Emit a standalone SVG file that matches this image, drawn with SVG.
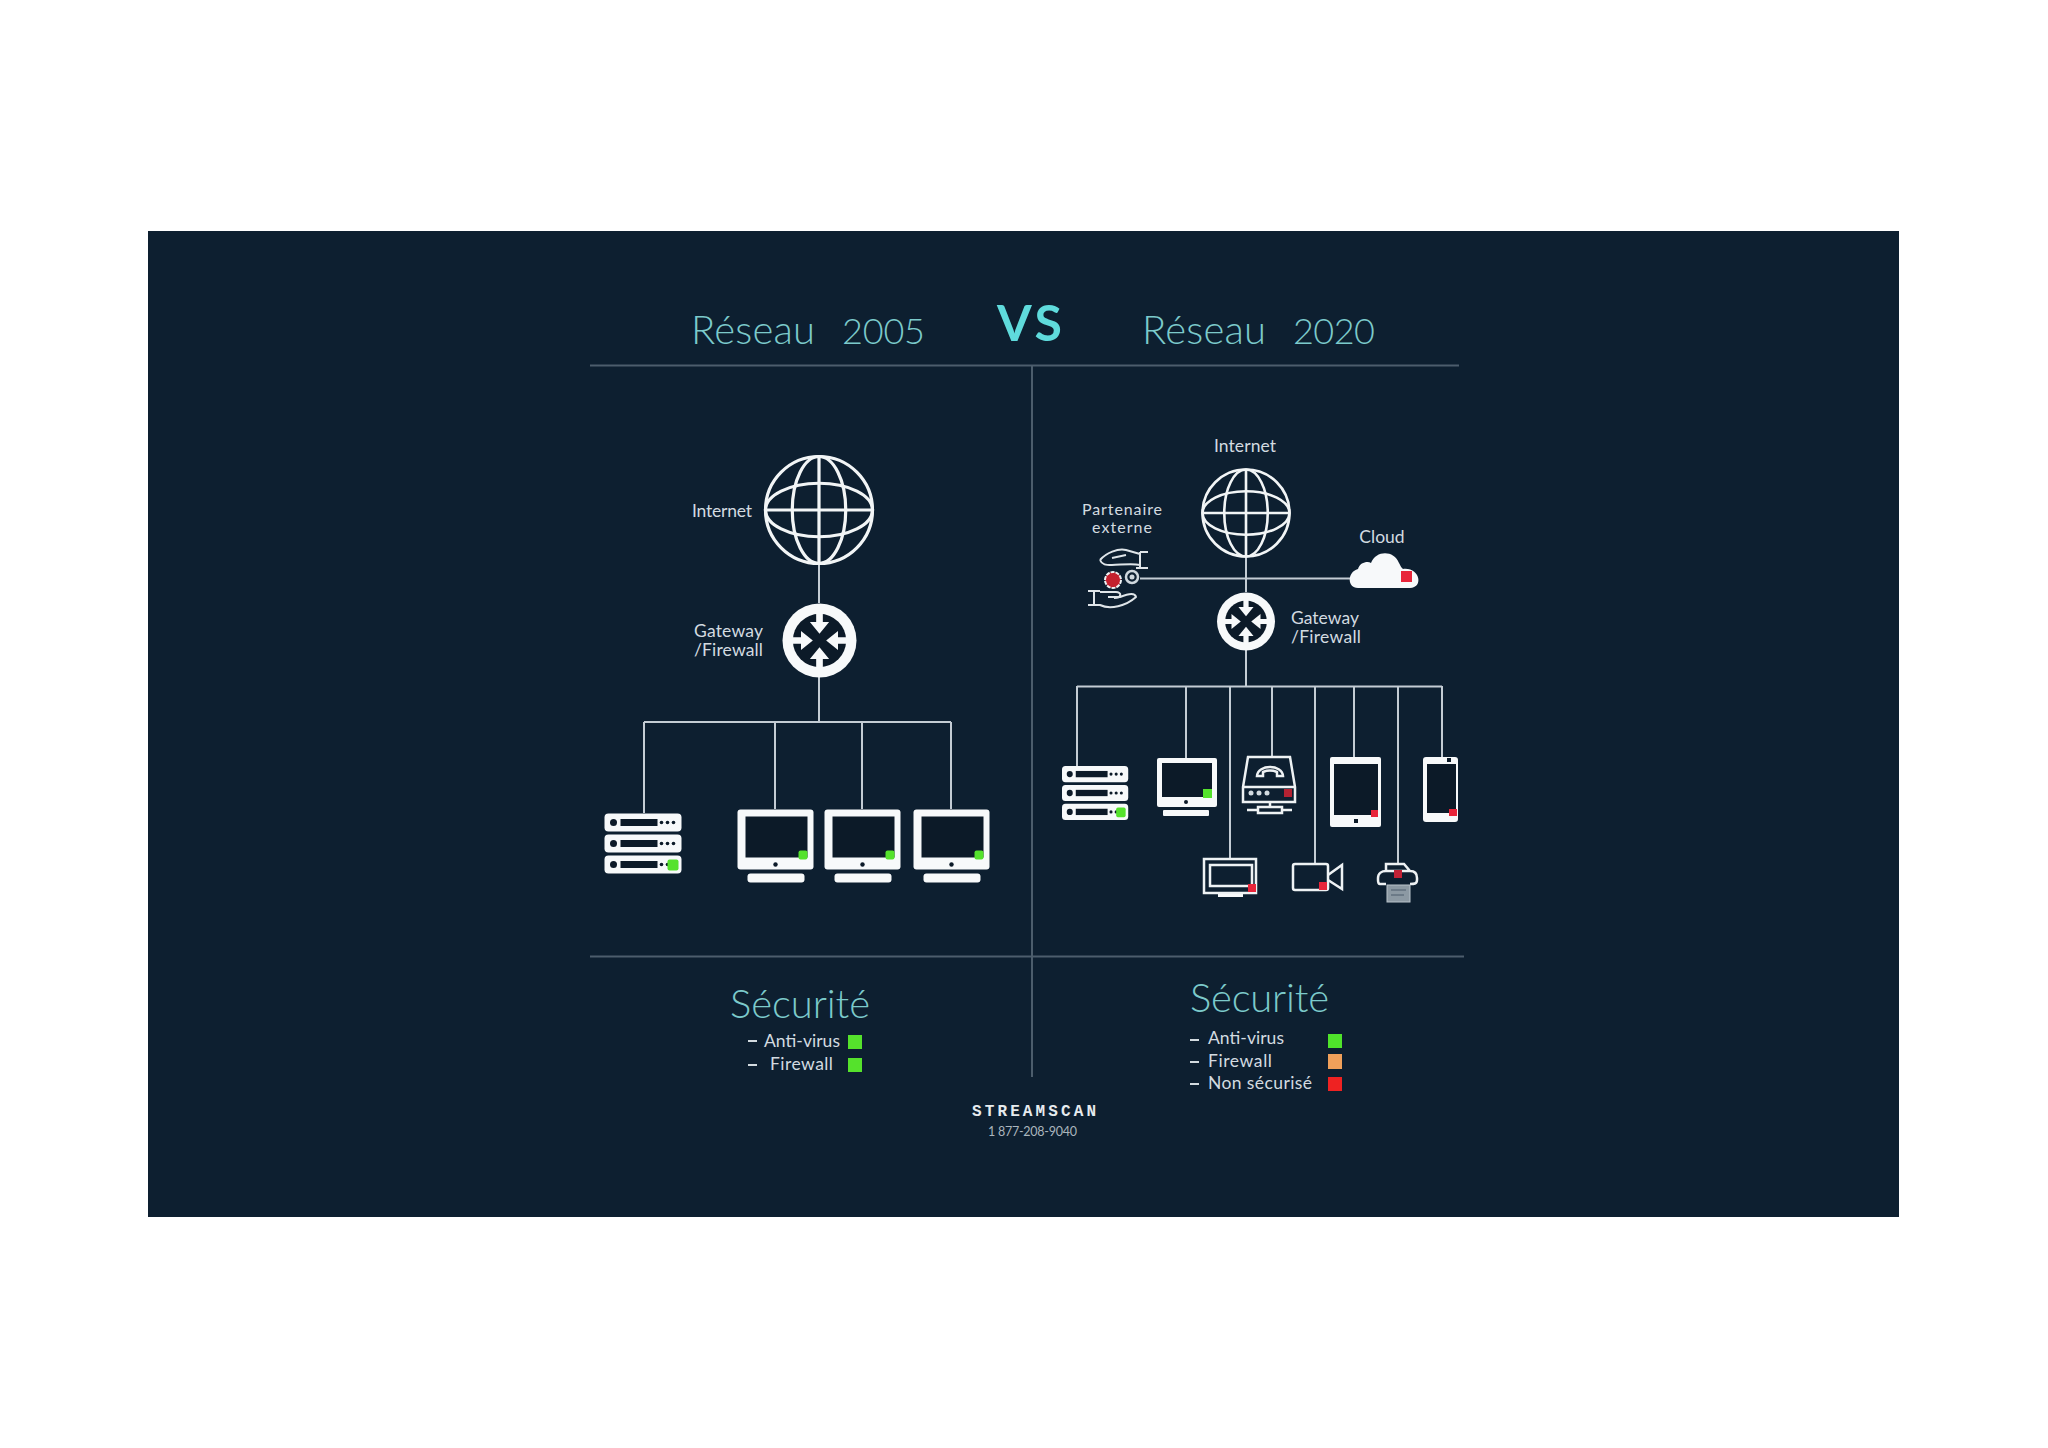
<svg xmlns="http://www.w3.org/2000/svg" width="2048" height="1448" viewBox="0 0 2048 1448">
<style>
.t{font-family:"Lato","Liberation Sans",sans-serif;font-weight:300;fill:#7ccacb;font-size:40px}
.n{font-size:36px}
.l{font-family:"Lato","Liberation Sans",sans-serif;font-weight:400;fill:#d3dbe0;font-size:17.5px}
.c{stroke:#c3ccd4;stroke-width:2;fill:none}
.d{stroke:#4c5d6c;stroke-width:2;fill:none}
.w{fill:#f7f9fa}
.k{fill:#0c1a28}
.o{fill:none;stroke:#eef2f4;stroke-width:2.5}
.h{fill:none;stroke:#dfe5e9;stroke-width:2;stroke-linejoin:round}
.g{fill:#55e22c}.r{fill:#e8253a}
</style>
<defs>
<g id="globe"><circle r="50" fill="none" stroke="#f2f5f6" stroke-width="3"/><ellipse rx="25" ry="50" fill="none" stroke="#f2f5f6" stroke-width="3"/><ellipse rx="50" ry="25" fill="none" stroke="#f2f5f6" stroke-width="3"/><path d="M0-50V50M-50 0H50" stroke="#f2f5f6" stroke-width="3"/></g>
<path id="arr" class="w" d="M-4.500-40H4.500V-25H13L0-9L-13-25H-4.500Z"/>
<g id="gw"><circle r="50" class="w"/><circle r="36" fill="#0c1a28"/><use href="#arr"/><use href="#arr" transform="rotate(90)"/><use href="#arr" transform="rotate(180)"/><use href="#arr" transform="rotate(270)"/></g>
<g id="rack"><rect width="77" height="18" rx="4" class="w"/><circle cx="9" cy="9" r="3.500" class="k"/><rect x="16" y="5.500" width="37" height="7" class="k"/><circle cx="57" cy="9" r="1.800" class="k"/><circle cx="63" cy="9" r="1.800" class="k"/><circle cx="69" cy="9" r="1.800" class="k"/></g>
<g id="srv"><use href="#rack"/><use href="#rack" y="21"/><use href="#rack" y="42"/><rect x="63" y="46" width="11" height="11" rx="2" class="g"/></g>
<g id="mon"><rect width="76" height="60" rx="3" class="w"/><rect x="8" y="7" width="62" height="41" class="k"/><circle cx="38" cy="55" r="2.200" class="k"/><rect x="10" y="64" width="57" height="9" rx="3" class="w"/><rect x="61" y="41" width="9" height="9" rx="2" class="g"/></g>
</defs>
<rect width="2048" height="1448" fill="#fff"/>
<rect x="148" y="231" width="1751" height="986" fill="#0d1f30"/>
<g id="connectors">
<path class="d" d="M590 365.500H1459M590 956.500H1464M1032 365V1077"/>
<path class="c" d="M819 564V603M819 677V722M644 722H951M644 722V813M775 722V809M862 722V809M951 722V809"/>
<path class="c" d="M1246 557V592M1246 650V686M1140 578.500H1350M1077 686.500H1442M1077 686V766M1186 686V758M1230 686V858M1272 686V757M1315 686V863M1354 686V757M1398 686V864M1442 686V757"/>
</g>
<g id="titles">
<text class="t" x="691" y="344" textLength="124">Réseau</text><text class="t n" x="842" y="344" textLength="83">2005</text>
<text x="997" y="341" font-family="Lato,'Liberation Sans',sans-serif" font-weight="700" font-size="50" fill="#5fdbdc" textLength="65">VS</text>
<text class="t" x="1142" y="344" textLength="124">Réseau</text><text class="t n" x="1293" y="344" textLength="82">2020</text>
</g>
<g id="internet-2005"><use href="#globe" transform="translate(819 510) scale(1.07)"/><text class="l" x="692" y="517" textLength="60">Internet</text></g>
<g id="gateway-2005"><use href="#gw" transform="translate(819.500 640.500) scale(.74)"/><text class="l" x="694" y="637" textLength="69">Gateway</text><text class="l" x="694" y="656" textLength="69">/Firewall</text></g>
<g id="server-2005"><use href="#srv" x="604.500" y="813.500"/></g>
<g id="pc-2005-1"><use href="#mon" x="737.500" y="809.500"/></g>
<g id="pc-2005-2"><use href="#mon" x="824.500" y="809.500"/></g>
<g id="pc-2005-3"><use href="#mon" x="913.500" y="809.500"/></g>
<g id="security-2005">
<text class="t" x="730" y="1018" textLength="140">Sécurité</text>
<path d="M748 1041H757M748 1065H757" stroke="#d3dbe0" stroke-width="2"/>
<text class="l" x="764" y="1047" textLength="76">Anti-virus</text><text class="l" x="770" y="1070" textLength="63">Firewall</text>
<rect x="848" y="1035" width="14" height="14" class="g"/><rect x="848" y="1058" width="14" height="14" class="g"/>
</g>
<g id="internet-2020"><use href="#globe" transform="translate(1246 513) scale(.87)"/><text class="l" x="1214" y="452" textLength="62">Internet</text></g>
<g id="gateway-2020"><use href="#gw" transform="translate(1246 621.500) scale(.58)"/><text class="l" x="1291" y="624" textLength="68">Gateway</text><text class="l" x="1291" y="643" textLength="70">/Firewall</text></g>
<g id="partner">
<text class="l" x="1082" y="515" font-size="16" style="font-size:16px" textLength="80">Partenaire</text><text class="l" x="1092" y="533" style="font-size:16px" textLength="60">externe</text>
<path class="h" d="M1100 560C1106 553 1118 548 1126 550L1140 554M1100 560C1102 565 1106 565 1112 565C1120 565 1132 563 1140 565M1112 558L1126 555M1140 552H1148M1140 552V568M1136 568H1148"/>
<path class="h" d="M1088 591H1100M1094 591V605M1088 605H1100C1110 610 1126 606 1136 597C1135 593 1130 593 1120 597H1108M1100 592H1116C1122 592 1122 598 1114 598"/>
<circle cx="1113" cy="580" r="8" fill="#c4202e" stroke="#eef2f4" stroke-width="2" stroke-dasharray="4 1"/>
<circle cx="1132" cy="577" r="6" fill="none" stroke="#cfd7dd" stroke-width="2.500"/><circle cx="1132" cy="577" r="2.500" fill="#cfd7dd"/>
</g>
<g id="cloud"><text class="l" x="1382" y="543" text-anchor="middle">Cloud</text>
<path class="w" d="M1358 588C1347 588 1347 572 1358 569C1360 562 1368 561 1371 563C1376 550 1394 550 1399 563C1401 567 1402 568 1403 569C1420 567 1424 588 1410 588Z"/><rect x="1401" y="571" width="11" height="11" class="r"/></g>
<g id="server-2020"><use href="#srv" transform="translate(1062 766) scale(.86 .9)"/></g>
<g id="pc-2020"><rect x="1157" y="758" width="60" height="49" rx="2" class="w"/><rect x="1162" y="763" width="50" height="34" class="k"/><circle cx="1186" cy="802" r="2" class="k"/><rect x="1163" y="810" width="46" height="6" rx="1" class="w"/><rect x="1203" y="789" width="9" height="9" class="g"/></g>
<g id="voip">
<path class="o" d="M1248 757H1290L1295 787V802H1243V787ZM1243 787H1295M1270 802V807M1258 807H1282V813H1258ZM1247 810H1258M1282 810H1292"/>
<path class="o" d="M1257 776C1258 764 1282 764 1283 776L1277 776V772C1272 770 1268 770 1263 772V776Z"/>
<circle cx="1251" cy="793" r="2.500" fill="#d3dbe0"/><circle cx="1259" cy="793" r="2.500" fill="#d3dbe0"/><circle cx="1267" cy="793" r="2.500" fill="#d3dbe0"/><rect x="1284" y="789" width="8" height="8" fill="#b32232"/>
</g>
<g id="tablet"><rect x="1330" y="757" width="51" height="70" rx="2" class="w"/><rect x="1334" y="764" width="44" height="51" class="k"/><rect x="1354" y="819" width="4" height="4" class="k"/><rect x="1371" y="810" width="7" height="7" class="r"/></g>
<g id="phone"><rect x="1423" y="757" width="35" height="65" rx="3" class="w"/><rect x="1427" y="764" width="29" height="49" class="k"/><rect x="1447" y="758" width="4" height="4" class="k"/><rect x="1449" y="809" width="8" height="7" class="r"/></g>
<g id="tv"><path class="o" d="M1204 859H1256V893H1204ZM1210 865H1252V886H1210Z"/><rect x="1218" y="894" width="25" height="3" class="w"/><rect x="1248" y="884" width="8" height="8" class="r"/></g>
<g id="camera"><rect x="1293" y="864" width="35" height="26" rx="2" class="o"/><path class="o" d="M1328 875L1342 865V889L1328 880"/><rect x="1319" y="882" width="8" height="8" class="r"/></g>
<g id="printer">
<path class="o" d="M1386 884H1380C1378 884 1378 882 1378 880V878C1378 873 1382 871 1386 871H1410C1414 871 1417 873 1417 878V880C1417 884 1414 884 1410 884M1386 871V864H1404L1410 871"/>
<rect x="1387" y="885" width="23" height="17" fill="#8c99a3" stroke="#b9c3ca"/><path d="M1391 890H1406M1391 895H1404" stroke="#4c5d6c"/>
<rect x="1394" y="870" width="8" height="8" fill="#c22236"/>
</g>
<g id="security-2020">
<text class="t" x="1190" y="1012" textLength="139">Sécurité</text>
<path d="M1190 1040H1199M1190 1062H1199M1190 1084H1199" stroke="#d3dbe0" stroke-width="2"/>
<text class="l" x="1208" y="1044" textLength="76">Anti-virus</text><text class="l" x="1208" y="1067" textLength="64">Firewall</text><text class="l" x="1208" y="1089" textLength="104">Non sécurisé</text>
<rect x="1328" y="1034" width="14" height="14" fill="#4fe32b"/><rect x="1328" y="1054" width="14" height="15" fill="#f0a05a"/><rect x="1328" y="1077" width="14" height="14" fill="#ee2222"/>
</g>
<g id="logo">
<text x="972" y="1116" font-family="'Liberation Mono',monospace" font-weight="700" font-size="16" fill="#e6ebee" textLength="124">STREAMSCAN</text>
<text x="988" y="1136" font-family="Lato,sans-serif" font-size="12.500" fill="#aab5bd" textLength="89">1 877-208-9040</text>
</g>
</svg>
